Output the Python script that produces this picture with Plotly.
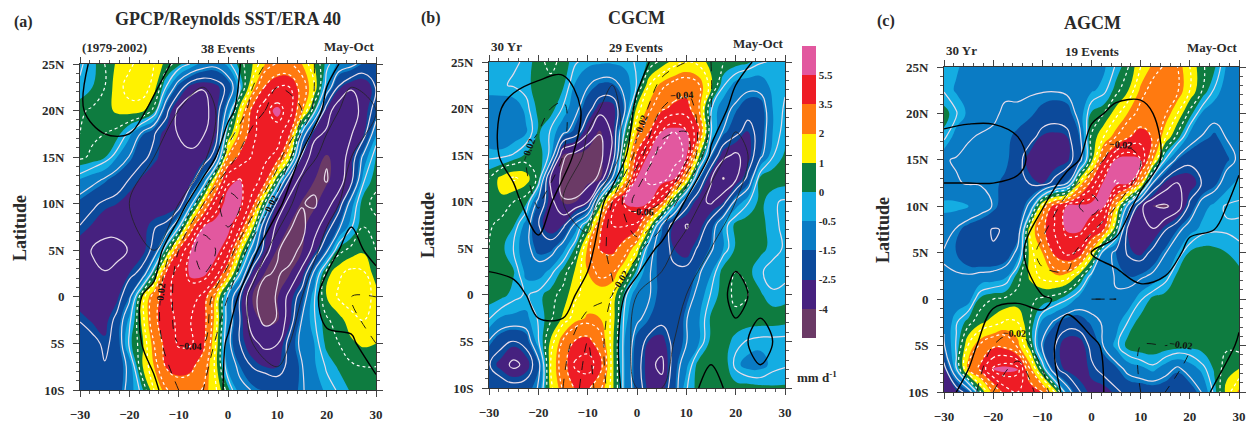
import numpy as np
import plotly.graph_objects as go

LON = [-30, -27.5, -25, -22.5, -20, -17.5, -15, -12.5, -10, -7.5, -5, -2.5, 0, 2.5, 5, 7.5, 10, 12.5, 15, 17.5, 20, 22.5, 25, 27.5, 30]
LAT = [25, 22.5, 20, 17.5, 15, 12.5, 10, 7.5, 5, 2.5, 0, -2.5, -5, -7.5, -10]
LON_C = [-30, -25, -20, -15, -10, -5, 0, 5, 10, 15, 20, 25, 30]
LAT_C = [25, 20, 15, 10, 5, 0, -5, -10]

precip_a = [
 [-.3,-.1,.5,1.1,1.4,1.7,1.5,.8,.2,-.3,-.8,-1.0,-.4,.3,1.0,2.0,2.6,2.6,2.0,1.0,-.1,-.7,-1.0,-1.6,-1.8],
 [-.2,0,.5,1.3,1.7,1.8,1.3,-.3,-1.8,-2.9,-3.2,-2.8,-2.0,-.2,1.8,3.6,4.5,4.5,3.0,1.5,-.6,-2.4,-3.2,-3.2,-2.2],
 [.4,.6,.8,1.1,1.3,1.2,.3,-2.0,-3.5,-3.9,-3.6,-2.8,-.9,1.5,4,5.2,6,5,2.5,0,-2.8,-3.9,-3.6,-3.0,-1.8],
 [.5,.6,.5,.3,-.4,-1.4,-2.2,-2.8,-3.3,-3.5,-3.3,-2.7,.4,2.5,4.3,5,5,3.6,-.5,-3,-3.4,-3.5,-3.3,-2.6,-.6],
 [.6,.4,.05,-.5,-1.3,-2.1,-2.4,-2.8,-3,-3.1,-2.9,-1.8,2.5,3.9,4.6,4.7,4.2,1.3,-2.5,-3.8,-4.2,-3.8,-2.8,-1,.1],
 [-.6,-1,-1.4,-1.9,-2.3,-2.6,-2.9,-3,-3,-2.7,-1,2,5.3,5.6,5,4,.5,-2.6,-3.6,-4,-4.3,-3.7,-2.5,-.3,.4],
 [-1.7,-2.1,-2.4,-2.5,-2.8,-3,-3.1,-3.1,-2.9,-.5,2.2,5,6.3,5.8,4,.3,-2.6,-3.6,-4.2,-4.4,-3.6,-2.7,-.8,.4,.6],
 [-2.3,-2.6,-2.9,-3,-3,-2.8,-2.3,-2,-.3,3,5.5,6.3,6.2,4.5,1.2,-2.2,-3.5,-4.2,-4.5,-3.6,-2.7,-1.4,-.3,.5,.4],
 [-3,-3.3,-3.6,-3.5,-3.2,-2.8,-2,.3,3.6,5.5,6.3,6.2,5,1.5,-.8,-2.7,-4.2,-4.5,-4.1,-2.9,-1.4,.3,.7,.9,.5],
 [-3.1,-3.1,-3.2,-3,-2.5,-2,.3,3.8,5,5.8,6,5,2.5,-.3,-2.8,-4.2,-4.3,-4.1,-2.9,-1,.8,1.4,1.7,1.6,.7],
 [-3,-2.8,-2.9,-2.7,-1.5,1,3,4.2,5,5,4.2,2,-.5,-2.3,-4.1,-4.5,-4.2,-2.9,-1.8,-.3,1,1.6,1.8,1.8,1.3],
 [-2.3,-2.6,-2.8,-2,-.4,1.1,3.2,4.3,4.6,4.5,4,1.8,-.7,-2.3,-3.8,-4.5,-4.2,-2.7,-1.2,-.3,.4,.8,1.3,1.5,1.5],
 [-1.7,-2,-2.4,-2,-.1,.8,2.5,4,4.6,4.6,3.8,1.5,-1,-2.3,-3,-3.5,-3.3,-1.9,-1,-.5,.2,.5,.9,1.1,1.0],
 [-1.8,-2,-2.2,-2,-1,.9,2,3.6,4,3.7,3,1.3,-.7,-1.5,-2.3,-2.5,-2.5,-2.1,-1.3,-.6,-.2,.1,.4,.5,.5],
 [-1.6,-1.7,-1.8,-1.9,-.9,-.1,1.5,2.4,2.9,3,2.4,1.6,.2,-1,-1.3,-1.6,-1.9,-1.9,-1.3,-1,-.4,-.2,.1,.3,.4],
]
precip_b = [
 [-.3,-.3,-.3,-.2,.4,.6,.4,-.2,-.4,-.45,-.45,-.4,-.2,.1,.7,1.2,1.5,1.3,.8,.5,.3,.1,-.2,-.3,-.3],
 [-.35,-.3,-.2,-.1,.3,.4,.1,-.6,-1.2,-1.6,-1.6,-1,-.2,1.5,2.3,2.8,3,2.6,1.2,-.2,-.8,-1,-.9,-.4,-.3],
 [-.9,-1,-1,-.4,.2,.3,-.3,-1,-1.9,-2.9,-2.9,-1.4,1.2,2.3,3.3,3.8,4,2.6,-.2,-1,-1.4,-1.9,-1.9,-.5,-.2],
 [-1,-1.1,-1,-.6,.1,-.3,-1,-1.7,-3.1,-4.2,-3.1,-.1,2,3.5,5.6,6.5,5.6,3.8,-.2,-1.3,-2,-2.6,-1.9,-.5,-.1],
 [-.4,-.4,-.2,.1,.4,-.4,-4.1,-4.6,-5.2,-4.6,-3,1,3.8,6.2,7,7,6.3,1.3,-1.3,-3,-3.4,-2.9,-1.5,-.3,.1],
 [.5,1.2,1.6,1.3,.3,-3.5,-4.5,-5,-4.8,-4,-1.2,1.6,5.9,6.8,7,6,2,-1.3,-3.2,-4.3,-3.4,-2,.2,.4,.3],
 [.6,.9,.5,.2,-1.5,-2.9,-4.2,-4.1,-3.3,.4,3.7,5.7,6.5,5.6,3.8,.3,-1.8,-3,-3.4,-2.6,-1,-.3,.2,-.2,-.3],
 [.6,.3,.05,-.8,-2.2,-3.2,-2.5,-1,.4,3.3,4.5,4.6,4.3,1.5,-1.3,-2.7,-3.3,-3,-1.8,-.5,.2,.4,.3,-.2,-.3],
 [.5,.2,-.3,-1,-1.7,-1.7,-.8,.1,2.2,3.6,3.9,3,1.6,-.9,-1.8,-2.5,-3,-2.1,-1.4,-.5,.1,.4,.2,-.1,-.3],
 [.4,.2,.05,-.7,-.9,-.4,.2,1.1,2,2.8,2.6,1.5,-.1,-1.2,-1.7,-2.1,-2,-1.4,-.6,.3,.5,.2,-.2,-.4,-.4],
 [.3,.2,-.1,-.3,-.1,.3,.7,1.4,1.7,1.7,1.5,-.1,-1,-1.2,-1.7,-1.9,-1.7,-1,-.2,.3,.6,.5,.1,-.2,-.1],
 [-.2,-.6,-.7,-.7,-.2,.4,1.1,1.8,2.1,2,1.4,-.4,-1.1,-1.5,-2,-2.2,-1.3,-.6,.1,.3,.4,.4,.4,.4,.3],
 [-1.3,-2,-2.3,-1.9,-.3,1.1,2.6,3.6,3.9,2.9,1.2,-.5,-1.7,-2.6,-2.8,-2,-1.3,-.6,.2,.3,-.1,-.3,-.4,-.4,-.4],
 [-2.2,-2.8,-3.5,-3,-1.6,1.5,3,4.7,5,4,1.2,-.5,-1.9,-3,-3.5,-1.8,-.7,.3,.5,.5,-.4,-.8,-.8,-.4,-.3],
 [-1.6,-1.8,-1.9,-1.8,-1.2,1.3,2.6,3.6,3.7,2.7,1.2,-.5,-1.8,-2.8,-2.9,-1.7,-.3,.3,.4,.4,.3,.3,.2,.1,.1],
]
precip_c = [
 [-.3,-.45,-.8,-1,-1,-1,-1,-1,-1,-1,-1,-.9,-.7,-.6,-.2,.5,1.5,2.2,2.6,2.5,1.5,.6,.1,-.6,-.8],
 [-.3,-.6,-.9,-1.1,-1.2,-1.2,-1.2,-1.2,-1.2,-1.2,-1.1,-.8,-.6,-.4,.3,1,2.2,2.8,3,2.6,1.5,.5,-.3,-.9,-.9],
 [.3,-.2,-.7,-1,-1.2,-1.3,-1.3,-1.4,-1.7,-1.9,-1.8,-1,.1,.5,1.3,2.1,2.8,3,2.6,1.5,.3,-.6,-1,-1.2,-1.2],
 [-.1,-.9,-1.2,-1.3,-1.3,-1.4,-1.6,-1.9,-2.6,-2.7,-2.5,-1.5,.6,1.5,2.5,3.4,4,3.4,1.6,.3,-.8,-1.3,-1.6,-1.2,-1.1],
 [-1.2,-1.3,-1.4,-1.4,-1.4,-1.4,-1.8,-3,-3,-3,-2.7,-1.7,.8,3.7,5.8,6.5,5.5,2.2,-.3,-1.5,-2,-2.2,-2,-1.6,-1.1],
 [-1.1,-1.2,-1.3,-1.3,-1.4,-1.6,-2,-2.3,-2.6,-2,-1.4,1.6,3.9,6,6.6,6,2,-1.3,-2.7,-3.3,-3,-2.2,-1.7,-.8,-.4],
 [-.4,-.4,-.5,-.9,-1.3,-1.9,-2.1,-1,1.8,4.2,5.8,6.4,6.4,5.7,2,-.7,-3,-4.2,-4.4,-3.8,-2,-.8,-.4,-.2,-.2],
 [-1,-1.3,-1.8,-2,-2.3,-2.2,-1.9,1.5,3.2,4.6,5.8,5.9,5,3.5,.5,-2.6,-3.1,-3.2,-2.3,-1.5,-.8,-.4,-.3,-.3,-.3],
 [-1.3,-1.5,-1.9,-2.1,-2.2,-2,-1,1.3,2,3.8,4.8,4.3,1.8,-.7,-1.5,-2.4,-2.7,-2,-1.3,-.5,.1,.3,.2,0,-.2],
 [-1.2,-1.2,-1.2,-1.1,-1,-.7,.3,1.1,1.7,1.9,1.8,.8,-.5,-1,-1.3,-1.5,-1.4,-1.1,-.5,.2,.4,.5,.5,.4,.3],
 [-1.1,-1,-.8,.2,.5,.6,.7,.6,.4,.2,-.2,-.8,-1,-1.2,-1.2,-1,-.3,.2,.4,.5,.5,.5,.5,.5,.5],
 [-1.2,-.3,.3,.9,1.2,1.6,1.5,.5,-.7,-1.4,-1.9,-1.8,-1.4,-1.2,-.8,-.2,.3,.5,.5,.5,.5,.5,.5,.5,.5],
 [-1.3,-.2,1.6,2.7,3.3,3.2,2.3,.7,-1.4,-2.2,-3,-3,-2,-1.2,-.4,.3,.5,.5,.4,.3,.2,.3,.4,.4,.3],
 [-2.6,-.3,2.5,3.8,5.6,6.2,5.8,2.5,.2,-2,-2.8,-2.9,-2.4,-2,-1.6,-1,-.7,-.4,-.9,-1.4,-.9,-.4,.1,.8,1],
 [-3,-2.8,-1.8,.5,2.5,4,4.5,4.3,3.5,1.5,-.7,-2.2,-2.7,-2.8,-2.4,-2,-2,-2,-2,-2,-1.9,-1.2,-.1,1.2,2.2],
]
omega_a = [
 [.005,-.01,-.01,-.01,.005,.01,.01,-.01,-.03,-.03,-.01,.01,.02],
 [.002,-.01,-.01,.005,.02,.03,.01,-.03,-.05,-.04,.01,.03,.02],
 [.01,.01,.01,.02,.03,.03,-.03,-.06,-.05,.005,.03,.02,.01],
 [.01,.01,.02,.03,.02,-.04,-.07,-.05,-.01,.04,.03,.01,.01],
 [.02,.02,.02,.02,-.04,-.07,-.05,-.01,.04,.04,.01,-.01,.01],
 [.02,.02,.01,-.01,-.05,-.05,-.02,.03,.04,.02,-.01,-.02,-.02],
 [.01,.01,.01,-.01,-.04,-.04,.005,.02,.03,.01,.005,.005,-.02],
 [.01,.01,.01,.005,-.02,-.02,.005,.01,.01,.01,.01,.01,.01],
]
omega_b = [
 [.01,.01,.01,.01,.01,.01,.01,-.01,-.02,-.02,-.01,.005,.01],
 [.005,-.005,-.015,-.025,.01,.03,-.005,-.04,-.05,-.02,.01,.01,.01],
 [.01,-.015,-.025,-.02,.03,.04,-.03,-.07,-.07,.005,.03,.01,.005],
 [.01,.01,-.025,.02,.04,-.02,-.07,-.06,.005,.03,.02,.01,.01],
 [.01,.01,.01,.02,.01,-.03,-.03,.01,.03,.02,.005,.01,.01],
 [-.01,-.005,.005,.01,-.01,-.02,.02,.03,.02,.01,-.005,.005,.01],
 [-.005,-.005,-.005,-.01,-.04,-.01,.03,.03,.01,.005,.005,-.005,.005],
 [-.005,-.005,-.005,-.02,-.05,-.01,.02,.02,.005,-.005,.005,.005,.005],
]
omega_c = [
 [.01,.01,.01,.01,.01,.01,.01,.01,.01,.01,.01,.01,.01],
 [.005,.003,.003,.005,.003,.002,.003,-.003,-.004,.004,.005,.01,.01],
 [-.01,-.01,-.01,-.005,.01,.01,-.01,-.03,-.02,.005,.01,.01,.005],
 [.01,.01,.01,.01,.002,-.03,-.05,-.02,.01,.02,.01,.01,-.01],
 [.01,.01,.01,.01,-.03,-.03,.002,.01,.02,.01,-.005,-.01,-.01],
 [.005,.005,.005,.003,.003,-.005,-.02,-.02,-.01,-.01,-.005,-.005,-.005],
 [.01,.01,-.02,-.03,-.01,.01,.005,-.01,-.02,-.02,-.02,-.01,.002],
 [.01,-.01,-.04,-.06,-.03,.01,.005,-.005,-.02,-.02,-.01,.002,.002],
]

BAND_EDGES = [-4, -2.5, -1.5, -0.5, 0, 1, 2, 3.5, 5.5]
BAND_LABELS = ["-4", "-2.5", "-1.5", "-0.5", "0", "1", "2", "3.5", "5.5"]
BAND_COLOURS = ["#6b3a66", "#46217f", "#0c4a9b", "#0a7bc4", "#14ade2", "#0e7c40", "#fff200", "#ff7a10", "#ee1c25", "#e2589f"]
X_TICKS = [-30, -20, -10, 0, 10, 20, 30]
Y_TICKS = [25, 20, 15, 10, 5, 0, -5, -10]
Y_LABELS = ["25N", "20N", "15N", "10N", "5N", "0", "5S", "10S"]

W, H = 1249, 425
FONT = "Liberation Serif"
panels = [
    dict(p=precip_a, o=omega_a, box=(80, 376, 64, 390), letter="(a)", lx=23, ly=22, title="GPCP/Reynolds SST/ERA 40", tx=228, ty=19,
         left="(1979-2002)", mid="38 Events", sy=48, ylx=20, yly=228),
    dict(p=precip_b, o=omega_b, box=(489, 785, 62, 388), letter="(b)", lx=431, ly=18, title="CGCM", tx=636, ty=18,
         left="30 Yr", mid="29 Events", sy=46, ylx=428, yly=225),
    dict(p=precip_c, o=omega_c, box=(944, 1239, 67, 392), letter="(c)", lx=886, ly=21, title="AGCM", tx=1092, ty=23,
         left="30 Yr", mid="19 Events", sy=50, ylx=883, yly=230),
]

def to_band(values):
    return np.interp(np.asarray(values, float), [-9] + BAND_EDGES + [11], list(range(11)))

n = len(BAND_COLOURS)
scale = []
for i, c in enumerate(BAND_COLOURS):
    scale += [[i / n, c], [(i + 1) / n, c]]

fig = go.Figure()
anns = []

def note(text, x, y, size, xanchor="center", angle=0):
    anns.append(dict(text=text, x=x / W, y=1 - y / H, xref="paper", yref="paper", showarrow=False, xanchor=xanchor,
                     yanchor="middle", textangle=angle, font=dict(family=FONT, size=size, color="#2a2a2a", weight="bold")))

for idx, pn in enumerate(panels):
    s = "" if idx == 0 else str(idx + 1)
    xa, ya = f"x{s}", f"y{s}"
    z = np.array(pn["p"], float)
    bar = dict(x=802 / W, xanchor="left", y=1 - 46 / H, yanchor="top", len=292 / H, lenmode="fraction", thickness=14, xpad=0, ypad=0,
               outlinewidth=0, tickmode="array", tickvals=list(range(1, 10)), ticktext=BAND_LABELS, ticks="", ticklabelposition="outside",
               tickfont=dict(family=FONT, size=11, color="#2a2a2a", weight="bold"))
    fig.add_trace(go.Contour(x=LON, y=LAT, z=to_band(z), xaxis=xa, yaxis=ya, colorscale=scale, zmin=0, zmax=10, hoverinfo="skip",
                             contours=dict(coloring="fill", start=1, end=9, size=1, showlines=False), line=dict(width=0, smoothing=1.3),
                             showscale=idx == 1, colorbar=bar))
    fig.add_trace(go.Contour(x=LON, y=LAT, z=z, xaxis=xa, yaxis=ya, showscale=False, hoverinfo="skip",
                             contours=dict(coloring="none", start=-6.25, end=-0.25, size=1),
                             line=dict(color="#e7dcea", width=1.2, smoothing=1.3)))
    fig.add_trace(go.Contour(x=LON, y=LAT, z=z, xaxis=xa, yaxis=ya, showscale=False, hoverinfo="skip",
                             contours=dict(coloring="none", start=0.5, end=8.5, size=1),
                             line=dict(color="#ffffff", width=1.2, dash="dot", smoothing=1.3)))
    o = np.array(pn["o"], float)
    fig.add_trace(go.Contour(x=LON_C, y=LAT_C, z=o, xaxis=xa, yaxis=ya, showscale=False, hoverinfo="skip",
                             contours=dict(coloring="none", start=-.08, end=-.02, size=.02, showlabels=True, labelformat=".2f",
                                           labelfont=dict(family=FONT, size=10, color="#111111", weight="bold")),
                             line=dict(color="#111111", width=0.9, dash="dash", smoothing=1)))
    fig.add_trace(go.Contour(x=LON_C, y=LAT_C, z=o, xaxis=xa, yaxis=ya, showscale=False, hoverinfo="skip",
                             contours=dict(coloring="none", start=.02, end=.06, size=.02),
                             line=dict(color="#222222", width=0.8, smoothing=1)))
    fig.add_trace(go.Contour(x=LON_C, y=LAT_C, z=o, xaxis=xa, yaxis=ya, showscale=False, hoverinfo="skip",
                             contours=dict(coloring="none", start=0, end=0, size=1),
                             line=dict(color="#000000", width=1.4, smoothing=1)))
    x0, x1, y0, y1 = pn["box"]
    axis_common = dict(showgrid=False, zeroline=False, showline=True, linecolor="#333333", linewidth=1, mirror="allticks",
                       ticks="outside", ticklen=6, tickcolor="#444444", ticklabelstandoff=6,
                       tickfont=dict(family=FONT, size=13, color="#2a2a2a", weight="bold"))
    fig.update_layout({
        f"xaxis{s}": dict(axis_common, domain=[x0 / W, x1 / W], range=[-30, 30], anchor=ya, tickvals=X_TICKS,
                          minor=dict(dtick=2, ticks="outside", ticklen=3, tickcolor="#555555")),
        f"yaxis{s}": dict(axis_common, domain=[1 - y1 / H, 1 - y0 / H], range=[-10, 25], anchor=xa, tickmode="array",
                          tickvals=Y_TICKS, ticktext=Y_LABELS,
                          minor=dict(dtick=1, ticks="outside", ticklen=3, tickcolor="#555555")),
    })
    note(pn["letter"], pn["lx"], pn["ly"], 16)
    note(pn["title"], pn["tx"], pn["ty"], 18)
    note(pn["left"], x0, pn["sy"], 13, "left")
    note(pn["mid"], pn["tx"], pn["sy"] + 1, 13)
    note("May-Oct", x1, pn["sy"] - 2, 13, "right")
    note("Latitude", pn["ylx"], pn["yly"], 18, angle=-90)

note("mm d<sup>-1</sup>", 817, 377, 13)
fig.update_layout(width=W, height=H, margin=dict(l=0, r=0, t=0, b=0, autoexpand=False), paper_bgcolor="white", plot_bgcolor="white",
                  showlegend=False, annotations=anns)
fig.write_html("out.html", config={"displayModeBar": False},
               post_script="document.body.style.margin='0';document.documentElement.style.overflow='hidden';")
